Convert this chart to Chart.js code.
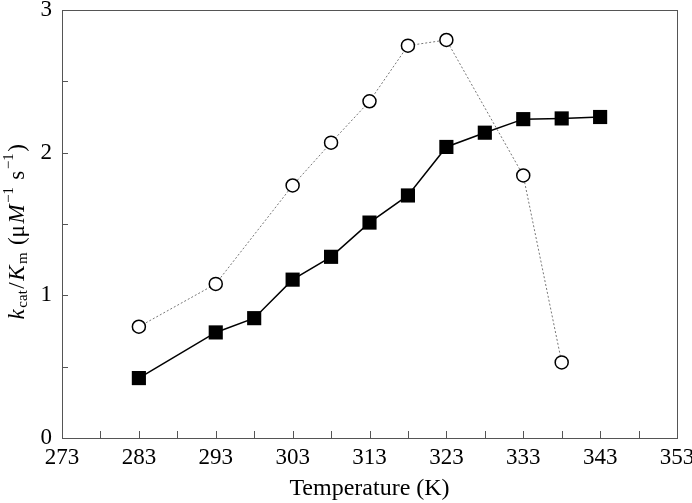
<!DOCTYPE html>
<html>
<head>
<meta charset="utf-8">
<script src="https://cdn.jsdelivr.net/npm/chart.js@4.4.1/dist/chart.umd.min.js"></script>
<style>
  html, body { margin: 0; padding: 0; background: #fff; }
  #wrap { width: 692px; height: 503px; position: relative; }
</style>
</head>
<body>
<div id="wrap"><canvas id="c" width="692" height="503"></canvas></div>
<script>
// Data
const tempSquares = [283, 293, 298, 303, 308, 313, 318, 323, 328, 333, 338, 343];
const valSquares  = [0.42, 0.74, 0.84, 1.11, 1.27, 1.51, 1.70, 2.04, 2.14, 2.235, 2.24, 2.25];
const tempCircles = [283, 293, 303, 308, 313, 318, 323, 333, 338];
const valCircles  = [0.78, 1.08, 1.77, 2.07, 2.36, 2.75, 2.79, 1.84, 0.53];
const xTickLabels = [273, 283, 293, 303, 313, 323, 333, 343, 353];
const yTickLabels = [0, 1, 2, 3];

const FONT = '"Liberation Serif", "Times New Roman", serif';

const framePlugin = {
  id: 'frame',
  afterDraw(chart) {
    const ctx = chart.ctx;
    const a = chart.chartArea;
    const xs = chart.scales.x, ys = chart.scales.y;
    ctx.save();
    ctx.strokeStyle = '#555';
    ctx.lineWidth = 1;
    ctx.strokeRect(Math.round(a.left) + 0.5, Math.round(a.top) + 0.5,
                   Math.round(a.right - a.left), Math.round(a.bottom - a.top));
    // inward ticks
    ctx.beginPath();
    for (let v = 278; v < 353; v += 5) {
      const px = Math.round(xs.getPixelForValue(v)) + 0.5;
      ctx.moveTo(px, a.bottom);
      ctx.lineTo(px, a.bottom - 7);
    }
    for (let v = 0.5; v < 3; v += 0.5) {
      const py = Math.round(ys.getPixelForValue(v)) + 0.5;
      ctx.moveTo(a.left, py);
      ctx.lineTo(a.left + 6, py);
    }
    ctx.stroke();

    // y axis title with sub/superscripts
    const big = 23, small = 15;
    const parts = [
      {t: 'k', s: 'i', o: 0},
      {t: 'cat', s: 'n', o: 5, small: true},
      {t: '/', s: 'n', o: 0},
      {t: 'K', s: 'i', o: 0},
      {t: 'm', s: 'n', o: 5, small: true},
      {t: ' (\u03bc', s: 'n', o: 0},
      {t: 'M', s: 'i', o: 0},
      {t: '\u22121', s: 'n', o: -9, small: true},
      {t: ' s', s: 'n', o: 0},
      {t: '\u22121', s: 'n', o: -9, small: true},
      {t: ')', s: 'n', o: 0}
    ];
    const fontOf = p => (p.s === 'i' ? 'italic ' : '') + (p.small ? small : big) + 'px ' + FONT;
    let total = 0;
    parts.forEach(p => { ctx.font = fontOf(p); p.w = ctx.measureText(p.t).width + 1.5; total += p.w; });
    ctx.translate(18, 231);
    ctx.rotate(-Math.PI / 2);
    ctx.fillStyle = '#000';
    ctx.textBaseline = 'middle';
    ctx.textAlign = 'left';
    let x = -total / 2;
    parts.forEach(p => { ctx.font = fontOf(p); ctx.fillText(p.t, x, p.o); x += p.w; });
    ctx.restore();
  }
};

new Chart(document.getElementById('c'), {
  type: 'scatter',
  data: {
    datasets: [
      {
        label: 'open',
        data: tempCircles.map((t, i) => ({x: t, y: valCircles[i]})),
        showLine: true,
        borderColor: '#777',
        borderWidth: 1,
        borderDash: [2, 2],
        pointStyle: 'circle',
        pointRadius: 6.5,
        pointBorderWidth: 1.5,
        pointBorderColor: '#000',
        pointBackgroundColor: '#fff'
      },
      {
        label: 'filled',
        data: tempSquares.map((t, i) => ({x: t, y: valSquares[i]})),
        showLine: true,
        borderColor: '#000',
        borderWidth: 1.5,
        pointStyle: 'rect',
        pointRadius: 10,
        pointBorderWidth: 0,
        pointBorderColor: '#000',
        pointBackgroundColor: '#000'
      }
    ]
  },
  options: {
    responsive: false,
    animation: false,
    devicePixelRatio: 1,
    layout: { padding: { left: 0, right: 15, top: 8, bottom: 0 } },
    plugins: { legend: { display: false }, tooltip: { enabled: false } },
    scales: {
      x: {
        type: 'linear', min: 273, max: 353,
        afterBuildTicks: s => { s.ticks = xTickLabels.map(v => ({value: v})); },
        grid: { display: false, drawTicks: false },
        border: { display: false },
        ticks: { color: '#000', font: { family: FONT, size: 23 }, padding: 6, maxRotation: 0, autoSkip: false },
        title: { display: true, text: 'Temperature (K)', color: '#000', font: { family: FONT, size: 24 }, padding: { top: 0, bottom: 0 } },
        afterFit: s => { s.height = 65; s.paddingLeft = 0; s.paddingRight = 0; }
      },
      y: {
        type: 'linear', min: 0, max: 3,
        afterBuildTicks: s => { s.ticks = yTickLabels.map(v => ({value: v})); },
        grid: { display: false, drawTicks: false },
        border: { display: false },
        ticks: { color: '#000', font: { family: FONT, size: 23 }, padding: 10 },
        afterFit: s => { s.width = 62; s.paddingTop = 0; s.paddingBottom = 0; }
      }
    }
  },
  plugins: [framePlugin]
});
</script>
</body>
</html>
